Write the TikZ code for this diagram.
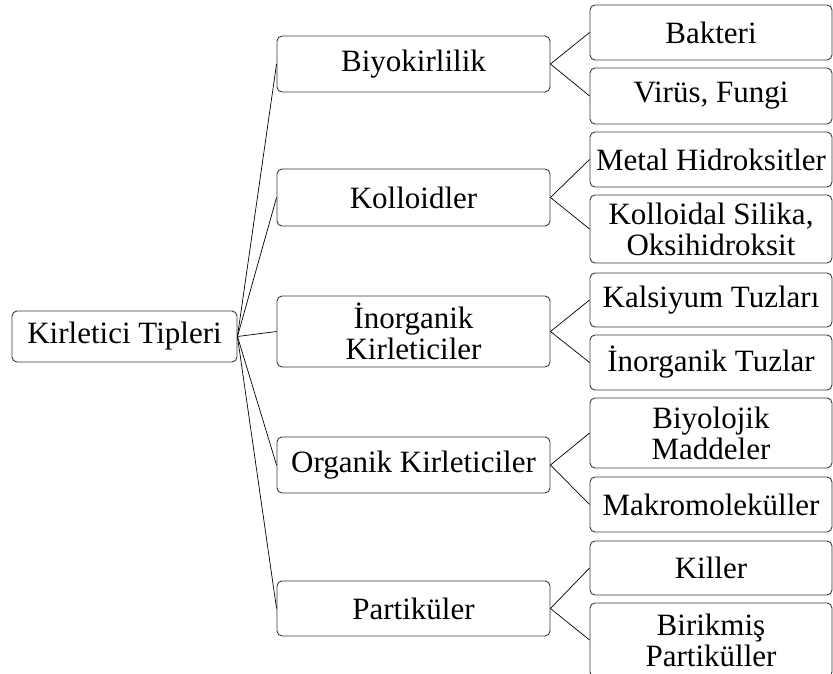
\documentclass[tikz,border=0pt]{standalone}
\usepackage{fontspec}
\setmainfont{Liberation Serif}
\begin{document}
\begin{tikzpicture}[x=1pt,y=-1pt,
  box/.style={draw=black!78, line width=0.9pt, rounded corners=5pt, inner sep=1pt,
    align=center, font=\fontsize{31}{31}\selectfont, text=black},
  rootbox/.style={box, minimum width=225pt},
  midbox/.style={box, minimum width=273pt},
  leafbox/.style={box, minimum width=242pt},
  link/.style={draw=black, line width=0.7pt}]
\useasboundingbox (0,0) rectangle (833,674);

% root
\node[rootbox, minimum height=51pt] (root) at (124.5,336.5) {Kirletici Tipleri};

% first level
\node[midbox, minimum height=56pt] (bio)   at (413.5,64)    {Biyokirlilik};
\node[midbox, minimum height=57pt] (kol)   at (413.5,197.5) {Kolloidler};
\node[midbox, minimum height=71pt] (inorg) at (413.5,331.5) {İnorganik\\Kirleticiler};
\node[midbox, minimum height=56pt] (org)   at (413.5,465)   {Organik Kirleticiler};
\node[midbox, minimum height=55pt] (part)  at (413.5,608.5) {Partiküler};

% second level
\node[leafbox, minimum height=55pt] (bak)  at (711,32.5)  {Bakteri};
\node[leafbox, minimum height=56pt] (vir)  at (711,96)    {Virüs, Fungi};
\node[leafbox, minimum height=55pt] (met)  at (711,159.5) {Metal Hidroksitler};
\node[leafbox, minimum height=68pt] (kold) at (711,229)   {Kolloidal Silika,\\Oksihidroksit};
\node[leafbox, minimum height=54pt] (kal)  at (711,300)   {Kalsiyum Tuzları};
\node[leafbox, minimum height=55pt] (intz) at (711,362.5) {İnorganik Tuzlar};
\node[leafbox, minimum height=70pt] (biyo) at (711,433)   {Biyolojik\\Maddeler};
\node[leafbox, minimum height=55pt] (mak)  at (711,504.5) {Makromoleküller};
\node[leafbox, minimum height=54pt] (kil)  at (711,568)   {Killer};
\node[leafbox, minimum height=74pt] (bir)  at (711,640)   {Birikmiş\\Partiküller};

% connectors
\foreach \n in {bio,kol,inorg,org,part}
  \draw[link] (root.east) -- (\n.west);
\draw[link] (bio.east) -- (bak.west);
\draw[link] (bio.east) -- (vir.west);
\draw[link] (kol.east) -- (met.west);
\draw[link] (kol.east) -- (kold.west);
\draw[link] (inorg.east) -- (kal.west);
\draw[link] (inorg.east) -- (intz.west);
\draw[link] (org.east) -- (biyo.west);
\draw[link] (org.east) -- (mak.west);
\draw[link] (part.east) -- (kil.west);
\draw[link] (part.east) -- (bir.west);
\end{tikzpicture}
\end{document}
